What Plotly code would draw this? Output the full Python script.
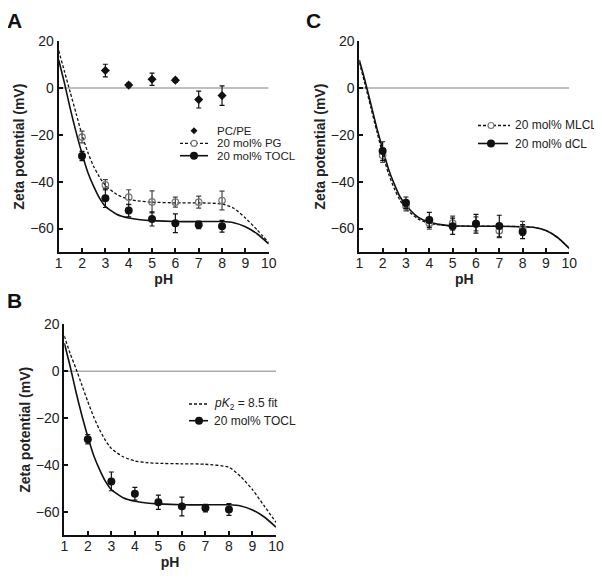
import plotly.graph_objects as go

W, H = 602, 579
OFF = 8  # page body margin offset, compensated in layout positions

# ---------------- data ----------------
ph_pts = [2, 3, 4, 5, 6, 7, 8]
pcpe_ph = [3, 4, 5, 6, 7, 8]
pcpe = [7.5, 1.3, 3.8, 3.4, -4.9, -3.2]
pcpe_err = [2.7, 0.8, 2.6, 0.8, 3.6, 4.2]
pg = [-20.9, -41.3, -46.6, -48.6, -48.7, -48.7, -48.0]
pg_err = [2.5, 2.2, 3.2, 4.7, 2.1, 2.6, 4.0]
tocl = [-29.0, -47.0, -52.3, -55.9, -57.7, -58.4, -59.0]
tocl_err = [2.0, 4.0, 2.7, 3.0, 4.0, 1.6, 2.5]
mlcl = [-28.7, -50.4, -57.7, -57.7, -58.0, -60.9, -59.9]
mlcl_err = [3.0, 2.0, 2.5, 3.0, 3.0, 3.0, 3.0]
dcl = [-26.9, -49.0, -56.3, -59.0, -57.9, -58.9, -61.3]
dcl_err = [4.0, 2.5, 3.2, 3.5, 4.0, 4.6, 3.0]

fit_ph = [1, 1.25, 1.5, 1.75, 2, 2.25, 2.5, 2.75, 3, 3.5, 4, 4.5, 5, 6, 7, 8, 8.5, 9, 9.5, 10]
tocl_fit = [12, 2, -9, -19, -28, -36, -42, -47, -50.5, -54, -55.5, -56.2, -56.6, -57, -57, -57, -57.5, -59.2, -62.2, -66.5]
pg_fit = [16, 7, -2, -11, -20, -27.5, -33.5, -38, -41.5, -45.5, -47.5, -48.3, -48.7, -49, -49, -49.5, -51.3, -55.5, -60.5, -66]
pk_fit = [15, 7.5, 1, -6, -13, -19.5, -25, -29.5, -33, -36.5, -38.3, -39, -39.3, -39.5, -39.7, -41, -45, -50.5, -57.5, -64.5]
dcl_fit = [12, 3, -7, -17, -26, -34.5, -41, -46.5, -50, -55, -57.3, -58.3, -58.8, -59, -59, -59.2, -59.5, -60.8, -63.8, -68.5]
mlcl_fit = [11, 1.5, -8.5, -18.5, -28, -36.5, -43, -48, -51.5, -55.8, -57.8, -58.5, -58.9, -59, -59, -59.2, -59.5, -60.8, -63.8, -68.5]

x_ticks = list(range(1, 11))
y_ticks = [-60, -40, -20, 0, 20]
x_range = [1, 10]
y_range = [-70, 20]

FONT = "Liberation Sans, Arial, sans-serif"
BLACK = "#111111"
GRAY_M = "#777777"
DASH = "3px,2px"

fig = go.Figure()


def fit_line(x, y, ax, dash):
    fig.add_trace(go.Scatter(x=x, y=y, xaxis=ax[0], yaxis=ax[1], mode="lines",
                             line=dict(color=BLACK, width=1.6 if dash == "solid" else 1.3,
                                       dash=dash, shape="spline", smoothing=0.6),
                             showlegend=False, hoverinfo="skip"))


def pts(x, y, err, ax, kind):
    if kind == "filled":
        marker = dict(symbol="circle", size=8, color=BLACK)
        ec = BLACK
    elif kind == "open":
        marker = dict(symbol="circle-open", size=6.5, color=GRAY_M, line=dict(width=1.2, color=GRAY_M))
        ec = "#444444"
    else:
        marker = dict(symbol="diamond", size=7, color=BLACK)
        ec = BLACK
    fig.add_trace(go.Scatter(x=x, y=y, xaxis=ax[0], yaxis=ax[1], mode="markers",
                             marker=marker,
                             error_y=dict(type="data", array=err, visible=True,
                                          color=ec, thickness=1.2, width=2.5),
                             showlegend=False))


A = ("x", "y")
B = ("x2", "y2")
C = ("x3", "y3")

fit_line(fit_ph, pg_fit, A, DASH)
fit_line(fit_ph, tocl_fit, A, "solid")
pts(pcpe_ph, pcpe, pcpe_err, A, "diamond")
pts(ph_pts, pg, pg_err, A, "open")
pts(ph_pts, tocl, tocl_err, A, "filled")
fit_line(fit_ph, pk_fit, B, DASH)
fit_line(fit_ph, tocl_fit, B, "solid")
pts(ph_pts, tocl, tocl_err, B, "filled")
fit_line(fit_ph, mlcl_fit, C, DASH)
fit_line(fit_ph, dcl_fit, C, "solid")
pts(ph_pts, mlcl, mlcl_err, C, "open")
pts(ph_pts, dcl, dcl_err, C, "filled")


def px(x):
    return (x - OFF) / W


def py(y):
    return 1 - (y - OFF) / H


panels = {
    "": dict(x0=58.7, x1=268.7, y0=41.3, y1=252),
    "2": dict(x0=64.3, x1=276, y0=324.3, y1=535.3),
    "3": dict(x0=359.3, x1=569.3, y0=41.3, y1=252),
}

layout = dict(width=W, height=H, margin=dict(l=0, r=0, t=0, b=0, autoexpand=False),
              paper_bgcolor="white", plot_bgcolor="white",
              font=dict(family=FONT, color="#222222", size=14), showlegend=False)

for k, p in panels.items():
    layout["xaxis" + k] = dict(domain=[px(p["x0"]), px(p["x1"])], range=x_range, tickvals=x_ticks,
                               anchor="y" + k, automargin=False,
                               showline=True, linewidth=2, linecolor=BLACK, ticks="inside",
                               ticklen=4, tickwidth=2, tickcolor=BLACK, showgrid=False, zeroline=False,
                               ticklabelstandoff=-3,
                               tickfont=dict(size=14, family=FONT, color="#222222"),
                               title=dict(text="<b>pH</b>", font=dict(size=14, family=FONT, color="#222222"),
                                          standoff=4))
    layout["yaxis" + k] = dict(domain=[py(p["y1"]), py(p["y0"])], range=y_range, tickvals=y_ticks,
                               anchor="x" + k, automargin=False,
                               showline=True, linewidth=2, linecolor=BLACK, ticks="inside",
                               ticklen=4, tickwidth=2, tickcolor=BLACK, showgrid=False, zeroline=False,
                               tickfont=dict(size=14, family=FONT, color="#222222"),
                               title=dict(text="<b>Zeta potential (mV)</b>",
                                          font=dict(size=14, family=FONT, color="#222222"), standoff=2))

fig.update_layout(**layout)

for k in ["", "2", "3"]:
    fig.add_shape(type="line", xref="x" + k, yref="y" + k, x0=x_range[0], x1=x_range[1], y0=0, y1=0,
                  line=dict(color="#aaaaaa", width=1.5), layer="below")

# panel letters: anchored by their top edge
for txt, x, ytop in [("A", 14, 8), ("B", 14, 288), ("C", 313, 8)]:
    fig.add_annotation(text="<b>%s</b>" % txt, xref="paper", yref="paper", x=px(x), y=py(ytop),
                       xanchor="center", yanchor="top", showarrow=False, borderpad=0,
                       font=dict(size=21, family=FONT, color="#111111"))

# ---------------- manual legends (pixel layout) ----------------
LEG = [
    (130.7, None, None, 194, 215, None, "diamond", "PC/PE", 11.5),
    (143.3, 180, 208, 194, 215, DASH, "open", "20 mol% PG", 11.5),
    (155.7, 180, 208, 194, 215, "solid", "filled", "20 mol% TOCL", 11.5),
    (404.0, 189, 208, None, 212, DASH, None, "<i>pK</i><sub>2</sub> = 8.5 fit", 12),
    (420.7, 189, 208, 199, 212, "solid", "filled", "20 mol% TOCL", 12),
    (125.5, 478, 510, 491, 513, DASH, "open", "20 mol% MLCL", 12),
    (143.5, 478, 508, 491, 513, "solid", "filled", "20 mol% dCL", 12),
]

for (ry, lx0, lx1, mx, tx, dash, mk, label, fs) in LEG:
    if dash is not None:
        fig.add_shape(type="line", xref="paper", yref="paper", x0=px(lx0), x1=px(lx1), y0=py(ry), y1=py(ry),
                      line=dict(color=BLACK, width=1.6 if dash == "solid" else 1.3, dash=dash))
    if mk is not None:
        r = 4 if mk == "filled" else (3 if mk == "open" else 3.5)
        if mk == "diamond":
            path = "M %f %f L %f %f L %f %f L %f %f Z" % (px(mx), py(ry - r), px(mx + r), py(ry),
                                                        px(mx), py(ry + r), px(mx - r), py(ry))
            fig.add_shape(type="path", xref="paper", yref="paper", path=path,
                          fillcolor=BLACK, line=dict(width=0))
        else:
            fig.add_shape(type="circle", xref="paper", yref="paper",
                          x0=px(mx - r), x1=px(mx + r), y0=py(ry + r), y1=py(ry - r),
                          fillcolor=BLACK if mk == "filled" else "white",
                          line=dict(color=BLACK if mk == "filled" else GRAY_M, width=0 if mk == "filled" else 1.2))
    fig.add_annotation(text=label, xref="paper", yref="paper", x=px(tx), y=py(ry),
                       xanchor="left", yanchor="middle", showarrow=False,
                       font=dict(size=fs, family=FONT, color="#222222"))

fig.write_html("out.html")
